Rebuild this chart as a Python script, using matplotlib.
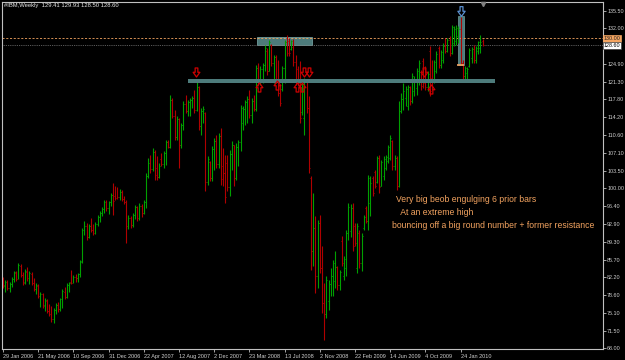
import matplotlib
matplotlib.use("Agg")
import matplotlib.pyplot as plt
from matplotlib.patches import Rectangle
from matplotlib.path import Path
import matplotlib.transforms as mtransforms
import numpy as np

# ---------------- data ----------------
title_text = "#IBM,Weekly  129.41 129.93 128.50 128.60"

opens = [81.9, 80.5, 81.2, 80.0, 80.9, 81.9, 83.1, 82.0, 84.5, 82.6,
         81.2, 83.3, 82.0, 82.9, 81.0, 79.9, 80.5, 78.4, 78.8, 76.6,
         77.5, 75.5, 74.9, 73.8, 75.6, 76.6, 75.8, 77.8, 79.3, 78.3,
         80.7, 81.2, 81.1, 82.3, 82.0, 82.8, 85.3, 91.6, 92.5, 90.3,
         92.4, 91.6, 91.0, 92.9, 94.3, 95.0, 95.9, 97.3, 96.0, 97.2,
         98.7, 98.5, 99.8, 98.2, 99.3, 97.8, 97.3, 92.4, 94.0, 92.6,
         94.6, 96.2, 94.0, 96.5, 95.0, 97.2, 102.5, 105.0, 103.8, 107.2,
         104.0, 102.2, 105.8, 104.8, 107.0, 109.2, 108.2, 117.6, 114.5, 110.3,
         113.8, 108.6, 112.6, 116.8, 115.4, 117.2, 117.6, 118.1, 115.6, 120.2,
         112.4, 115.4, 115.0, 101.2, 105.2, 102.0, 107.8, 109.4, 104.8, 110.4,
         104.5, 103.0, 105.0, 100.2, 106.8, 108.6, 102.0, 108.2, 109.3, 113.0,
         115.8, 117.2, 117.9, 114.6, 117.4, 115.9, 124.0, 121.0, 123.8, 124.6,
         127.4, 123.5, 128.6, 125.0, 126.2, 121.6, 119.0, 119.8, 124.0, 129.2,
         129.5, 127.8, 128.2, 125.2, 123.8, 121.0, 115.2, 114.0, 121.2, 116.0,
         102.0, 87.5, 92.0, 82.5, 93.0, 84.0, 77.0, 74.8, 77.5, 80.8,
         82.5, 81.5, 84.2, 80.6, 89.5, 82.5, 84.0, 91.0, 91.5, 96.0,
         92.5, 84.0, 91.0, 85.0, 92.0, 96.0, 93.5, 97.0, 102.0, 103.2,
         101.2, 106.0, 100.5, 102.5, 104.0, 105.5, 106.0, 109.5, 104.5, 106.0,
         100.5, 115.5, 117.8, 118.0, 116.5, 120.2, 117.5, 119.5, 120.0, 121.5,
         123.3, 125.5, 123.8, 120.3, 127.5, 122.0, 121.5, 123.5, 128.0, 124.6,
         125.6, 128.5, 127.4, 129.6, 127.0, 129.0, 129.5, 130.5, 131.9, 125.0,
         122.4, 123.0, 124.5, 126.0, 127.9, 125.6, 127.5, 128.0, 129.41]

highs = [82.3, 81.7, 81.6, 81.2, 82.2, 83.5, 83.4, 85.1, 84.8, 83.2,
         83.8, 84.2, 83.4, 83.2, 82.0, 81.0, 80.8, 79.2, 79.0, 78.0,
         77.8, 76.8, 76.5, 76.0, 77.0, 77.3, 78.0, 79.8, 80.2, 81.0,
         81.3, 83.6, 82.6, 82.8, 83.0, 85.7, 92.0, 93.4, 93.0, 92.8,
         94.0, 92.8, 93.2, 94.6, 95.4, 96.2, 97.7, 97.6, 97.5, 99.0,
         101.0, 100.4, 100.2, 99.8, 99.7, 98.4, 97.7, 94.7, 94.4, 95.0,
         96.7, 96.5, 97.0, 96.8, 97.7, 103.0, 106.0, 106.6, 108.0, 107.7,
         106.4, 105.0, 107.0, 107.4, 109.7, 109.7, 118.7, 118.0, 115.7, 114.4,
         114.0, 113.0, 117.4, 118.7, 117.7, 118.0, 118.4, 119.7, 121.7, 120.4,
         116.0, 116.4, 115.2, 106.4, 105.4, 108.4, 110.0, 110.7, 111.0, 112.0,
         108.0, 106.7, 106.7, 107.7, 109.4, 108.7, 109.0, 109.7, 116.7, 116.4,
         117.7, 118.4, 119.7, 118.0, 118.7, 124.7, 125.0, 124.4, 125.0, 128.7,
         128.0, 129.7, 128.9, 126.7, 126.7, 125.7, 120.7, 124.4, 129.7, 130.7,
         130.0, 129.7, 129.8, 126.7, 124.4, 125.4, 121.0, 122.0, 121.7, 118.4,
         102.4, 99.0, 94.4, 93.7, 94.7, 88.4, 81.0, 82.4, 81.7, 84.0,
         85.7, 87.4, 84.4, 83.7, 90.4, 86.4, 91.7, 97.0, 96.8, 97.0,
         93.0, 93.0, 91.7, 91.0, 94.7, 96.4, 102.7, 102.4, 102.4, 103.7,
         106.4, 106.7, 105.7, 106.4, 106.7, 108.7, 110.7, 109.7, 106.7, 106.4,
         117.5, 119.0, 121.0, 120.4, 120.7, 120.4, 123.0, 122.4, 124.0, 125.7,
         123.7, 126.0, 124.4, 123.5, 128.4, 125.7, 125.7, 127.4, 128.4, 127.7,
         129.0, 130.0, 130.0, 130.4, 132.7, 132.4, 132.7, 132.5, 134.3, 125.7,
         124.4, 124.2, 128.0, 128.2, 128.7, 128.4, 129.5, 130.6, 129.93]

lows = [80.0, 79.2, 79.7, 79.3, 80.2, 81.2, 81.4, 81.8, 82.2, 80.6,
        80.8, 81.5, 80.8, 80.6, 79.5, 78.8, 78.0, 76.3, 76.0, 75.5,
        75.0, 74.5, 73.3, 73.1, 74.8, 75.2, 75.5, 76.0, 77.8, 78.0,
        79.2, 80.8, 81.0, 81.2, 81.3, 82.3, 85.0, 90.6, 89.7, 90.0,
        91.3, 90.7, 90.8, 92.4, 93.2, 94.4, 95.0, 95.5, 94.8, 96.4,
        94.7, 97.7, 97.8, 97.7, 97.4, 96.8, 89.0, 91.8, 92.0, 92.2,
        93.8, 93.4, 93.7, 94.2, 94.8, 96.0, 102.0, 103.0, 103.4, 101.7,
        101.7, 102.0, 104.4, 104.0, 104.7, 108.0, 108.0, 114.0, 109.7, 109.7,
        104.0, 108.0, 111.7, 115.0, 114.4, 114.4, 116.0, 115.0, 115.4, 111.7,
        110.7, 113.0, 99.4, 100.7, 101.4, 101.4, 103.7, 104.0, 104.0, 100.7,
        100.4, 97.0, 99.4, 98.4, 103.7, 100.4, 101.6, 104.4, 107.4, 111.7,
        112.7, 113.0, 114.0, 113.0, 115.4, 115.4, 120.4, 120.7, 121.0, 123.4,
        122.7, 123.4, 124.4, 121.0, 121.0, 118.4, 116.4, 119.4, 121.0, 126.4,
        126.4, 127.7, 124.4, 120.7, 120.4, 113.0, 114.7, 110.7, 115.0, 103.0,
        83.7, 84.4, 79.0, 80.0, 83.0, 75.0, 69.7, 74.0, 75.7, 78.5,
        78.4, 80.0, 79.7, 79.7, 84.4, 81.7, 82.4, 89.7, 90.2, 87.4,
        88.4, 83.0, 84.0, 83.5, 91.7, 93.0, 91.7, 94.4, 98.4, 100.0,
        101.0, 99.0, 100.4, 101.7, 103.7, 105.0, 105.7, 103.7, 103.7, 99.7,
        100.2, 115.0, 115.7, 116.4, 115.7, 116.7, 117.0, 118.4, 118.7, 120.7,
        119.7, 120.0, 119.7, 119.5, 118.4, 119.7, 121.0, 123.0, 124.0, 124.0,
        125.0, 127.0, 127.2, 126.4, 126.8, 128.4, 128.7, 129.0, 124.7, 121.7,
        121.7, 121.9, 124.3, 125.0, 125.0, 125.0, 126.8, 127.0, 128.50]

closes = [80.6, 81.3, 80.1, 80.9, 81.9, 83.2, 81.9, 84.6, 82.6, 81.1,
          83.4, 82.0, 83.0, 81.0, 79.9, 80.6, 78.4, 78.8, 76.5, 77.6,
          75.4, 74.9, 73.8, 75.6, 76.6, 75.8, 77.8, 79.4, 78.3, 80.7,
          81.0, 81.1, 82.3, 82.0, 82.8, 85.4, 91.6, 92.5, 90.3, 92.4,
          91.6, 91.0, 92.9, 94.3, 95.0, 95.9, 97.3, 96.0, 97.2, 98.7,
          97.5, 98.1, 98.2, 99.3, 97.8, 97.3, 92.4, 94.0, 92.6, 94.6,
          96.2, 94.0, 96.5, 95.0, 97.2, 102.5, 105.0, 103.8, 107.2, 102.6,
          102.2, 104.5, 104.8, 107.0, 109.2, 108.2, 117.6, 114.5, 110.3, 113.8,
          108.6, 112.6, 116.8, 115.4, 117.2, 117.6, 118.1, 115.6, 120.2, 112.4,
          115.4, 115.9, 101.2, 105.8, 102.0, 107.8, 109.4, 104.8, 110.4, 101.8,
          103.0, 98.2, 100.2, 106.8, 108.6, 102.0, 108.2, 109.3, 116.0, 115.8,
          117.2, 117.9, 114.6, 117.4, 115.9, 124.0, 121.0, 123.8, 124.6, 128.0,
          123.5, 129.2, 125.0, 126.2, 121.6, 119.0, 117.0, 124.0, 129.2, 127.0,
          127.0, 129.4, 125.2, 121.5, 121.0, 114.0, 120.4, 121.2, 116.0, 104.0,
          87.5, 92.0, 82.5, 93.0, 84.0, 77.0, 74.8, 81.6, 80.8, 82.5,
          85.0, 84.2, 80.6, 83.2, 85.0, 85.8, 91.0, 96.2, 96.0, 88.5,
          89.0, 92.5, 85.0, 90.5, 94.3, 93.5, 102.0, 101.0, 99.0, 100.5,
          106.0, 100.2, 105.2, 105.8, 106.3, 108.2, 110.0, 104.5, 106.0, 100.5,
          115.5, 117.8, 119.5, 119.8, 120.2, 117.5, 122.5, 121.8, 123.5, 125.0,
          120.5, 121.0, 120.3, 122.8, 119.5, 120.3, 125.2, 126.8, 124.6, 127.2,
          128.5, 127.4, 129.6, 127.0, 132.2, 131.8, 132.0, 131.9, 125.0, 122.4,
          124.0, 123.8, 127.6, 127.9, 125.6, 128.0, 129.2, 129.3, 128.60]

x_tick_labels = ["29 Jan 2006", "21 May 2006", "10 Sep 2006", "31 Dec 2006",
                 "22 Apr 2007", "12 Aug 2007", "2 Dec 2007", "23 Mar 2008",
                 "13 Jul 2008", "2 Nov 2008", "22 Feb 2009", "14 Jun 2009",
                 "4 Oct 2009", "24 Jan 2010"]
x_tick_bars = [0, 16, 32, 48, 64, 80, 96, 112, 128, 144, 160, 176, 192, 208]

y_tick_labels = ["135.50", "132.00", "124.90", "121.30", "117.80", "114.20",
                 "110.60", "107.10", "103.50", "100.00", "96.40", "92.90",
                 "89.30", "85.70", "82.20", "78.60", "75.10", "71.50", "68.00"]

resistance_level = 121.55
round_level = 130.00
last_price = 128.60
top_zone_bars = (115.5, 140.5)
top_zone_prices = (128.7, 130.3)
engulf_bar = 208
engulf_prices = (124.7, 134.4)
down_arrow_bars = [87.7, 136.6, 139.2, 191.4]
down_arrow_prices = [123.2, 123.2, 123.2, 123.2]
up_arrow_bars = [116.4, 124.5, 133.5, 135.7, 194.5]
up_arrow_prices = [120.3, 120.6, 120.3, 120.3, 119.8]
note_lines = ["Very big beob engulging 6 prior bars",
              "  At an extreme high",
              "bouncing off a big round number + former resistance"]

# ---------------- style ----------------
W, H = 625, 360
BG = "#000000"
FG = "#d0d0d0"
UP = "#00a000"
DN = "#b00000"
TEAL = "#4d7b7b"
SANDY = "#f4a460"
FONT = "Liberation Sans"

# outlined arrow marker shapes
_down_verts = [(-0.3, 1.0), (0.3, 1.0), (0.3, 0.05), (0.75, 0.05), (0.0, -1.0),
               (-0.75, 0.05), (-0.3, 0.05), (-0.3, 1.0)]
_codes = [Path.MOVETO] + [Path.LINETO] * 6 + [Path.CLOSEPOLY]
DOWN_ARROW = Path(_down_verts, _codes)
UP_ARROW = Path([(x, -y) for x, y in _down_verts], _codes)

fig = plt.figure(figsize=(W / 100, H / 100), dpi=100, facecolor=BG)
ax = fig.add_axes([2 / W, 11 / H, 601 / W, 347 / H], facecolor=BG)

o = np.array(opens); h = np.array(highs); l = np.array(lows); c = np.array(closes)
idx = np.arange(len(c))
cols = np.where(c >= o, UP, DN)

# zones under bars
ax.add_patch(Rectangle((top_zone_bars[0], top_zone_prices[0]),
                       top_zone_bars[1] - top_zone_bars[0],
                       top_zone_prices[1] - top_zone_prices[0],
                       facecolor=TEAL, edgecolor="#6f9c9c", lw=0.6, zorder=1))
ax.add_patch(Rectangle((engulf_bar - 1.3, engulf_prices[0]), 2.6,
                       engulf_prices[1] - engulf_prices[0],
                       facecolor=TEAL, edgecolor="#6f9c9c", lw=0.5, zorder=1))

ax.axhline(round_level, color=SANDY, ls=(0, (2.5, 2)), lw=0.6, zorder=1.5)
ax.axhline(last_price, color="#7a7a7a", ls=(0, (1, 1.2)), lw=0.6, zorder=1.5)

ax.vlines(idx, l, h, colors=cols, lw=0.8, zorder=2)
ax.hlines(o, idx - 0.45, idx, colors=cols, lw=0.7, zorder=2)
ax.hlines(c, idx, idx + 0.45, colors=cols, lw=0.7, zorder=2)

# resistance line over bars
ax.add_patch(Rectangle((84, resistance_level - 0.4), 223.6 - 84, 0.8,
                       facecolor=TEAL, edgecolor="none", zorder=3))
ax.hlines(engulf_prices[0], engulf_bar - 1.5, engulf_bar + 1.5, colors=SANDY, lw=1.2, zorder=3)

ax.plot(down_arrow_bars, down_arrow_prices, ls="none", marker=DOWN_ARROW, markersize=6.5,
        markerfacecolor="none", markeredgecolor="#d00000", markeredgewidth=0.9, zorder=4)
ax.plot(up_arrow_bars, up_arrow_prices, ls="none", marker=UP_ARROW, markersize=6.5,
        markerfacecolor="none", markeredgecolor="#d00000", markeredgewidth=0.9, zorder=4)
ax.plot([engulf_bar], [engulf_prices[1] + 1.0], ls="none", marker=DOWN_ARROW, markersize=7,
        markerfacecolor="none", markeredgecolor="#5a8fd0", markeredgewidth=0.9, zorder=4)

ax.set_xlim(-0.5, 272.7)
ax.set_ylim(67.8, 137.3)

for s in ax.spines.values():
    s.set_color("#c0c0c0")
    s.set_linewidth(0.8)

ax.yaxis.tick_right()
ax.set_yticks([float(v) for v in y_tick_labels])
ax.set_yticklabels(y_tick_labels)
ax.tick_params(axis="y", direction="out", length=2, width=0.6, color="#c0c0c0",
               labelsize=3.9, labelcolor=FG, pad=1)
ax.set_xticks(x_tick_bars)
ax.set_xticklabels(x_tick_labels, ha="left")
ax.tick_params(axis="x", direction="out", length=2.5, width=0.6, color="#c0c0c0",
               labelsize=4.0, labelcolor=FG, pad=0.8)
for t in ax.get_xticklabels() + ax.get_yticklabels():
    t.set_family(FONT)

ytrans = ax.get_yaxis_transform()
ax.text(1.0015, round_level, "130.00", transform=ytrans, fontsize=3.9, family=FONT,
        color="#202020", ha="left", va="center", clip_on=False, zorder=5,
        bbox=dict(boxstyle="square,pad=0.12", fc=SANDY, ec=SANDY, lw=0.5))
ax.text(1.0015, last_price, "128.60", transform=ytrans, fontsize=3.9, family=FONT,
        color="#000000", ha="left", va="center", clip_on=False, zorder=5,
        bbox=dict(boxstyle="square,pad=0.12", fc="white", ec="#404040", lw=0.5))

xtrans = mtransforms.blended_transform_factory(ax.transData, ax.transAxes)
ax.plot([len(c) - 1], [0.995], marker="v", color="#808080", markersize=3,
        transform=xtrans, clip_on=False, zorder=5)

fig.text(4 / W, 1 - 6 / H, title_text, fontsize=4.2, family=FONT, color="#e8e8e8",
         ha="left", va="center")

note_pos = [(396, 200), (396, 212.5), (392.5, 225)]
for (px, py), line in zip(note_pos, note_lines):
    fig.text(px / W, 1 - py / H, line, fontsize=6.2, family=FONT, color=SANDY,
             ha="left", va="center")

fig.savefig("out.png", dpi=100, facecolor=BG)
